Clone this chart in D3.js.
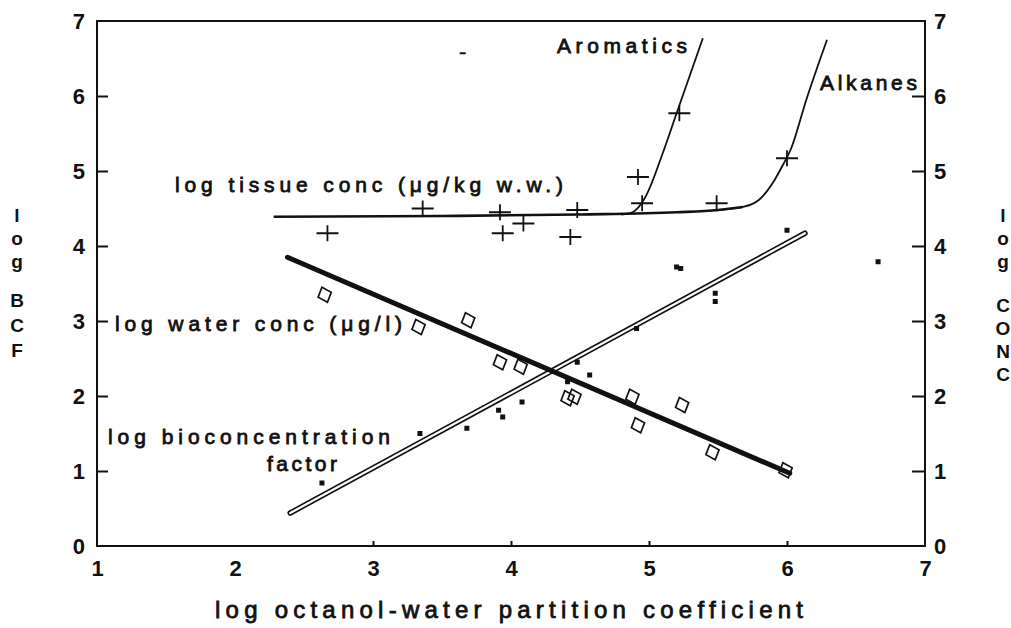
<!DOCTYPE html>
<html>
<head>
<meta charset="utf-8">
<script src="https://cdn.jsdelivr.net/npm/d3@7"></script>
<style>
  body { margin: 0; background: #fff; }
  svg { display: block; }
  text { font-family: "Liberation Sans", Arial, sans-serif; fill: #111; }
</style>
</head>
<body>
<svg id="chart" width="1011" height="628"></svg>
<script>
// values (x = log Kow)
var xTicks = [1, 2, 3, 4, 5, 6, 7];
var yTicks = [0, 1, 2, 3, 4, 5, 6, 7];

// log tissue conc, "+" marks
var tissueX = [2.67, 3.36, 3.92, 3.94, 4.09, 4.43, 4.48, 4.92, 4.95, 5.22, 5.49, 6.00];
var tissueY = [4.17, 4.50, 4.45, 4.17, 4.30, 4.12, 4.48, 4.92, 4.57, 5.77, 4.57, 5.17];

// log water conc, diamonds
var waterX = [2.65, 3.33, 3.69, 3.92, 4.07, 4.41, 4.46, 4.88, 4.92, 5.24, 5.46, 5.99];
var waterY = [3.35, 2.92, 3.01, 2.45, 2.39, 1.97, 1.99, 1.99, 1.61, 1.88, 1.25, 1.01];

// log BCF, small squares
var bcfX = [2.63, 3.34, 3.68, 3.91, 3.94, 4.08, 4.41, 4.48, 4.57, 4.91, 5.20, 5.23, 5.48, 5.48, 6.00, 6.66];
var bcfY = [0.84, 1.50, 1.57, 1.81, 1.72, 1.92, 2.19, 2.45, 2.28, 2.90, 3.72, 3.70, 3.37, 3.26, 4.21, 3.79];

// fitted lines
var waterFitX = [2.38, 6.02];
var waterFitY = [3.85, 0.97];
var bcfFitX = [2.40, 6.13];
var bcfFitY = [0.44, 4.17];

// tissue plateau
var plateauX = [2.28, 3.5, 4.5, 5.2, 5.5, 5.68];
var plateauY = [4.39, 4.40, 4.42, 4.45, 4.48, 4.52];

// alkanes branch
var alkX = [5.5, 5.68, 5.80, 5.90, 5.97, 6.03, 6.14, 6.29];
var alkY = [4.48, 4.52, 4.62, 4.85, 5.08, 5.30, 5.95, 6.75];

// aromatics branch
var aroX = [4.80, 4.88, 4.97, 5.10, 5.20, 5.39];
var aroY = [4.42, 4.45, 4.64, 5.24, 5.77, 6.77];

var svg = d3.select("#chart");

var xScale = d3.scaleLinear().domain([1, 7]).range([97, 925]);
var yScale = d3.scaleLinear().domain([0, 7]).range([546, 21]);

function pts(xs, ys) {
  return xs.map(function(d, i) { return [d, ys[i]]; });
}

var line = d3.line()
  .x(function(d) { return xScale(d[0]); })
  .y(function(d) { return yScale(d[1]); });

// frame
svg.append("rect")
  .attr("x", xScale(1))
  .attr("y", yScale(7))
  .attr("width", xScale(7) - xScale(1))
  .attr("height", yScale(0) - yScale(7))
  .style("fill", "none")
  .style("stroke", "#111")
  .style("stroke-width", 2);

var leftAxis = d3.axisLeft(yScale).tickValues(yTicks).tickSize(-11).tickPadding(12).tickFormat(d3.format("d"));
var rightAxis = d3.axisRight(yScale).tickValues(yTicks).tickSize(-13).tickPadding(9).tickFormat(d3.format("d"));
var bottomAxis = d3.axisBottom(xScale).tickValues(xTicks).tickSize(-5).tickPadding(14).tickFormat(d3.format("d"));

var axes = [
  svg.append("g").attr("transform", "translate(" + xScale(1) + ",0)").call(leftAxis),
  svg.append("g").attr("transform", "translate(" + xScale(7) + ",0)").call(rightAxis),
  svg.append("g").attr("transform", "translate(0," + yScale(0) + ")").call(bottomAxis)
];
axes.forEach(function(g) {
  g.select(".domain").remove();
  g.selectAll(".tick line").style("stroke", "#111").style("stroke-width", 2);
  g.selectAll(".tick text")
    .style("font-size", "22px")
    .style("font-weight", "bold")
    .style("fill", "#111");
});
// end ticks that coincide with the frame
axes[2].selectAll(".tick").filter(function(d) { return d === 1 || d === 2 || d === 7; }).select("line").remove();
axes[0].selectAll(".tick").filter(function(d) { return d === 0 || d === 7; }).select("line").remove();
axes[1].selectAll(".tick").filter(function(d) { return d === 0 || d === 7; }).select("line").remove();

// curves
line.curve(d3.curveMonotoneX);
svg.append("path")
  .datum(pts(plateauX, plateauY))
  .attr("d", line)
  .style("fill", "none")
  .style("stroke", "#111")
  .style("stroke-width", 2.6);

svg.append("path")
  .datum(pts(alkX, alkY))
  .attr("d", line)
  .style("fill", "none")
  .style("stroke", "#111")
  .style("stroke-width", 1.8);

svg.append("path")
  .datum(pts(aroX, aroY))
  .attr("d", line)
  .style("fill", "none")
  .style("stroke", "#111")
  .style("stroke-width", 1.8);

line.curve(d3.curveLinear);

// BCF fit: hollow double line
svg.append("path")
  .datum(pts(bcfFitX, bcfFitY))
  .attr("d", line)
  .style("stroke", "#111")
  .style("stroke-width", 5.5)
  .style("stroke-linecap", "round");
svg.append("path")
  .datum(pts(bcfFitX, bcfFitY))
  .attr("d", line)
  .style("stroke", "#fff")
  .style("stroke-width", 2.2)
  .style("stroke-linecap", "round");

// water conc fit: heavy line
svg.append("path")
  .datum(pts(waterFitX, waterFitY))
  .attr("d", line)
  .style("stroke", "#111")
  .style("stroke-width", 5)
  .style("stroke-linecap", "round");

// markers
svg.selectAll(".plus")
  .data(pts(tissueX, tissueY))
  .enter().append("path")
  .attr("class", "plus")
  .attr("transform", function(d) { return "translate(" + xScale(d[0]) + "," + yScale(d[1]) + ")"; })
  .attr("d", "M-11,0H11M0,-8V8")
  .style("stroke", "#111")
  .style("stroke-width", 1.8);

svg.selectAll(".diamond")
  .data(pts(waterX, waterY))
  .enter().append("path")
  .attr("class", "diamond")
  .attr("transform", function(d) { return "translate(" + xScale(d[0]) + "," + yScale(d[1]) + ") rotate(-20)"; })
  .attr("d", "M0,-8L7,0L0,8L-7,0Z")
  .style("fill", "none")
  .style("stroke", "#111")
  .style("stroke-width", 1.7);

svg.selectAll(".sq")
  .data(pts(bcfX, bcfY))
  .enter().append("rect")
  .attr("class", "sq")
  .attr("x", function(d) { return xScale(d[0]) - 2.5; })
  .attr("y", function(d) { return yScale(d[1]) - 2.5; })
  .attr("width", 5)
  .attr("height", 5)
  .style("fill", "#111");

// stray dash near the top
svg.append("path")
  .attr("transform", "translate(" + xScale(3.65) + "," + yScale(6.57) + ")")
  .attr("d", "M-3,0H3")
  .style("stroke", "#111")
  .style("stroke-width", 2);

// in-plot labels
var labels = [
  {t: "log tissue conc (μg/kg w.w.)", x: 175, y: 192, w: 388, s: 21},
  {t: "Aromatics", x: 557, y: 53, w: 130, s: 21},
  {t: "Alkanes", x: 820, y: 90, w: 97, s: 21},
  {t: "log water conc (μg/l)", x: 115, y: 331, w: 287, s: 21},
  {t: "log bioconcentration", x: 108, y: 444, w: 282, s: 21},
  {t: "factor", x: 267, y: 471, w: 70, s: 21},
  {t: "log octanol-water partition coefficient", x: 215, y: 618, w: 588, s: 24}
];
svg.selectAll(".lab")
  .data(labels)
  .enter().append("text")
  .attr("class", "lab")
  .attr("x", function(d) { return d.x; })
  .attr("y", function(d) { return d.y; })
  .attr("textLength", function(d) { return d.w; })
  .attr("lengthAdjust", "spacing")
  .style("font-size", function(d) { return d.s + "px"; })
  .style("stroke", "#111")
  .style("stroke-width", 0.8)
  .text(function(d) { return d.t; });

// stacked axis titles
function stacked(chars, x, ys) {
  svg.append("g").selectAll("text")
    .data(chars)
    .enter().append("text")
    .attr("x", x)
    .attr("y", function(d, i) { return ys[i]; })
    .attr("text-anchor", "middle")
    .style("font-size", "19px")
    .style("font-weight", "bold")
    .text(function(d) { return d; });
}
stacked(["l", "o", "g", "B", "C", "F"], 17, [222, 245, 268, 307, 332, 357]);
stacked(["l", "o", "g", "C", "O", "N", "C"], 1003, [222, 245, 268, 312, 335, 358, 381]);
</script>
</body>
</html>
